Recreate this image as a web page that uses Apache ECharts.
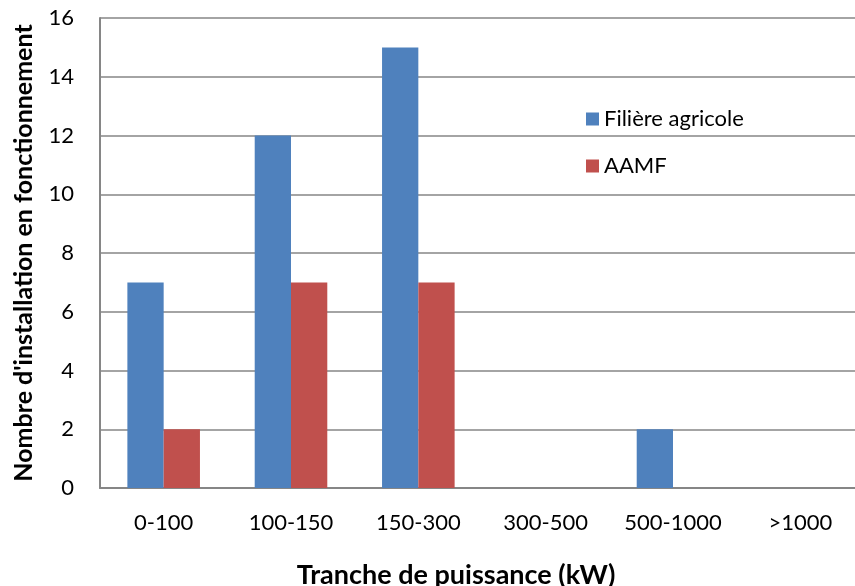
<!DOCTYPE html>
<html>
<head>
<meta charset="utf-8">
<script src="https://cdn.jsdelivr.net/npm/echarts@6/dist/echarts.min.js"></script>
<style>
  html, body { margin: 0; padding: 0; background: #fff; }
  #chart { width: 855px; height: 586px; }
</style>
</head>
<body>
<div id="chart"></div>
<script>
// Power bands (kW)
const categories = ['0-100', '100-150', '150-300', '300-500', '500-1000', '>1000'];
// Installations in operation per band
const filiereAgricole = [7, 12, 15, 0, 2, 0];
const aamf = [2, 7, 7, 0, 0, 0];
const yTicks = { min: 0, max: 16, interval: 2 };

const FONT = 'Lato';
const chart = echarts.init(document.getElementById('chart'), null, { renderer: 'canvas' });

chart.setOption({
  animation: false,
  backgroundColor: '#ffffff',
  textStyle: { fontFamily: FONT },
  // plot area runs slightly past the right edge of the canvas
  grid: { left: 100, top: 18, width: 764, bottom: 98, containLabel: false, outerBoundsMode: 'none' },
  legend: {
    orient: 'vertical',
    left: 581,
    top: 103,
    itemWidth: 13,
    itemHeight: 13,
    itemGap: 25,
    icon: 'rect',
    textStyle: { fontFamily: FONT, fontSize: 22, color: '#000' },
    data: ['Filière agricole', 'AAMF']
  },
  xAxis: {
    type: 'category',
    data: categories,
    name: 'Tranche de puissance (kW)',
    nameLocation: 'middle',
    nameGap: 74,
    nameTextStyle: { fontFamily: FONT, fontSize: 27, fontWeight: 'bold', color: '#000', padding: [0, 0, 0, -52] },
    axisLine: { lineStyle: { color: '#868686', width: 2 } },
    axisTick: { show: false },
    axisLabel: { fontFamily: FONT, fontSize: 22, color: '#000', margin: 24, interval: 0 }
  },
  yAxis: {
    type: 'value',
    min: yTicks.min,
    max: yTicks.max,
    interval: yTicks.interval,
    name: "Nombre d'installation en fonctionnement",
    nameLocation: 'middle',
    nameGap: 64,
    nameTextStyle: { fontFamily: FONT, fontSize: 25, fontWeight: 'bold', color: '#000' },
    axisLine: { show: true, lineStyle: { color: '#868686', width: 2 } },
    axisTick: { show: false },
    splitLine: { lineStyle: { color: '#868686', width: 1.5 } },
    axisLabel: { fontFamily: FONT, fontSize: 22, color: '#000', margin: 26 }
  },
  series: [
    {
      name: 'Filière agricole',
      type: 'bar',
      data: filiereAgricole,
      barGap: '0%',
      barCategoryGap: '43%',
      itemStyle: { color: '#4F81BD' }
    },
    {
      name: 'AAMF',
      type: 'bar',
      data: aamf,
      itemStyle: { color: '#C0504D' }
    }
  ]
});
</script>
</body>
</html>
